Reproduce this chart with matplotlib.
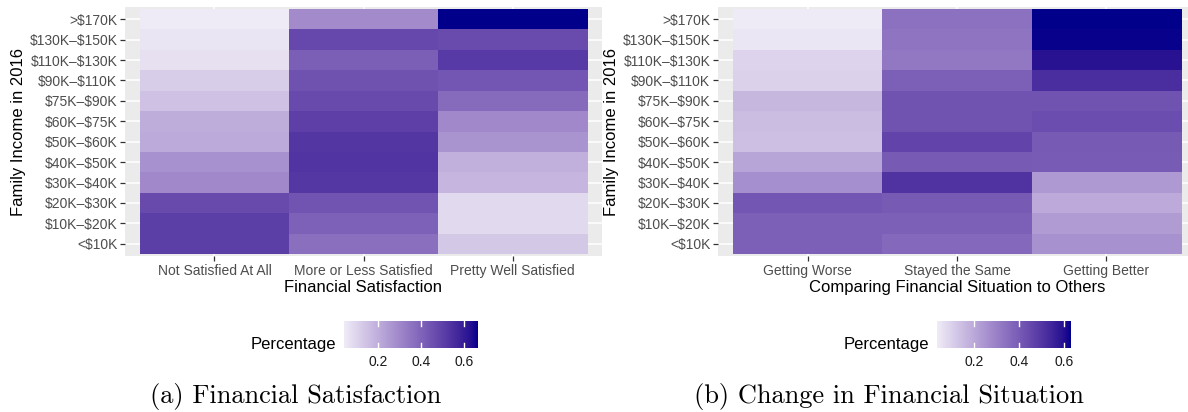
import numpy as np
import matplotlib
matplotlib.use("Agg")
import matplotlib.pyplot as plt
from matplotlib.colors import ListedColormap, Normalize, to_rgb

# ---- data -------------------------------------------------------------
income_levels = ["<$10K", "$10K–$20K", "$20K–$30K", "$30K–$40K", "$40K–$50K",
                 "$50K–$60K", "$60K–$75K", "$75K–$90K", "$90K–$110K",
                 "$110K–$130K", "$130K–$150K", ">$170K"]

satisfaction_levels = ["Not Satisfied At All", "More or Less Satisfied",
                       "Pretty Well Satisfied"]
# share of each income group (bottom row first)
not_satisfied = [0.503, 0.503, 0.468, 0.300, 0.275, 0.210, 0.202, 0.150, 0.117,
                 0.072, 0.060, 0.044]
more_or_less = [0.365, 0.407, 0.442, 0.522, 0.533, 0.525, 0.500, 0.470, 0.449,
                0.414, 0.473, 0.292]
pretty_well = [0.132, 0.090, 0.090, 0.178, 0.192, 0.265, 0.298, 0.380, 0.434,
               0.514, 0.467, 0.664]

change_levels = ["Getting Worse", "Stayed the Same", "Getting Better"]
getting_worse = [0.385, 0.385, 0.410, 0.260, 0.205, 0.140, 0.145, 0.160, 0.095,
                 0.090, 0.045, 0.033]
stayed_same = [0.360, 0.385, 0.400, 0.505, 0.400, 0.460, 0.420, 0.420, 0.385,
               0.320, 0.330, 0.337]
getting_better = [0.255, 0.230, 0.190, 0.235, 0.395, 0.400, 0.435, 0.420, 0.520,
                  0.590, 0.625, 0.630]

legend_ticks = [0.2, 0.4, 0.6]

# ---- colour scale: gradient interpolated in CIE Lab -------------------
LOW, HIGH = "#EFEBF6", "#00008B"
WHITE = np.array([0.95047, 1.0, 1.08883])
M = np.array([[0.4124, 0.3576, 0.1805],
              [0.2126, 0.7152, 0.0722],
              [0.0193, 0.1192, 0.9505]])
Minv = np.linalg.inv(M)


def rgb_to_lab(rgb):
    c = np.asarray(rgb, float)
    lin = np.where(c <= 0.04045, c / 12.92, ((c + 0.055) / 1.055) ** 2.4)
    xyz = M @ lin / WHITE
    f = np.where(xyz > (6 / 29) ** 3, np.cbrt(xyz), xyz / (3 * (6 / 29) ** 2) + 4 / 29)
    return np.array([116 * f[1] - 16, 500 * (f[0] - f[1]), 200 * (f[1] - f[2])])


def lab_to_rgb(lab):
    L, a, b = lab
    fy = (L + 16) / 116
    f = np.array([fy + a / 500, fy, fy - b / 200])
    xyz = np.where(f > 6 / 29, f ** 3, 3 * (6 / 29) ** 2 * (f - 4 / 29)) * WHITE
    lin = np.clip(Minv @ xyz, 0, 1)
    c = np.where(lin <= 0.0031308, 12.92 * lin, 1.055 * lin ** (1 / 2.4) - 0.055)
    return np.clip(c, 0, 1)


lab_lo, lab_hi = rgb_to_lab(to_rgb(LOW)), rgb_to_lab(to_rgb(HIGH))
cmap = ListedColormap([lab_to_rgb(lab_lo + t * (lab_hi - lab_lo))
                       for t in np.linspace(0, 1, 256)])

plt.rcParams["font.family"] = ["Liberation Sans", "DejaVu Sans"]
plt.rcParams["text.parse_math"] = False

W, H = 1188, 412
fig = plt.figure(figsize=(W / 100, H / 100), dpi=100)


def px_rect(x0, y0, x1, y1):
    return [x0 / W, 1 - y1 / H, (x1 - x0) / W, (y1 - y0) / H]


def heat_panel(x0, x1, columns, col_labels, xlabel, cbar_x0, cbar_x1,
               caption, cap_x):
    data = np.column_stack(columns)
    norm = Normalize(vmin=data.min(), vmax=data.max())
    ax = fig.add_axes(px_rect(x0, 7, x1, 256))
    ax.set_facecolor("#EBEBEB")
    im = ax.imshow(data, origin="lower", aspect="auto", cmap=cmap, norm=norm,
                   interpolation="nearest", zorder=2)
    ax.set_xlim(-0.6, len(col_labels) - 0.4)
    ax.set_ylim(-0.6, len(income_levels) - 0.4)
    ax.set_xticks(range(len(col_labels)))
    ax.set_xticklabels(col_labels)
    ax.set_yticks(range(len(income_levels)))
    ax.set_yticklabels(income_levels)
    ax.grid(True, color="white", linewidth=1.1, zorder=1)
    ax.set_axisbelow(True)
    for s in ax.spines.values():
        s.set_visible(False)
    ax.tick_params(axis="both", colors="#333333", length=3.5, width=0.9,
                   labelsize=10, labelcolor="#4D4D4D", pad=2)
    ax.set_xlabel(xlabel, fontsize=12, color="black", labelpad=2)
    ax.set_ylabel("Family Income in 2016", fontsize=12, color="black", labelpad=2.5)

    cax = fig.add_axes(px_rect(cbar_x0, 321, cbar_x1, 348))
    cb = fig.colorbar(im, cax=cax, orientation="horizontal")
    cb.outline.set_visible(False)
    cb.set_ticks(legend_ticks)
    cb.ax.tick_params(length=0, labelsize=10, labelcolor="#1A1A1A", pad=5)
    for v in legend_ticks:
        cax.axvline(v, 0, 0.2, color="white", linewidth=1)
        cax.axvline(v, 0.8, 1, color="white", linewidth=1)
    fig.text((cbar_x0 - 8) / W, 1 - 345 / H, "Percentage", fontsize=12,
             ha="right", va="center")
    fig.text(cap_x / W, 1 - 397 / H, caption, fontsize=19, family="cmr10",
             ha="center", va="center")


heat_panel(125, 602, [not_satisfied, more_or_less, pretty_well],
           satisfaction_levels, "Financial Satisfaction", 344, 478,
           "(a) Financial Satisfaction", 296)
heat_panel(718, 1196, [getting_worse, stayed_same, getting_better],
           change_levels, "Comparing Financial Situation to Others", 937, 1071,
           "(b) Change in Financial Situation", 889)

fig.savefig("out.png", dpi=100)
